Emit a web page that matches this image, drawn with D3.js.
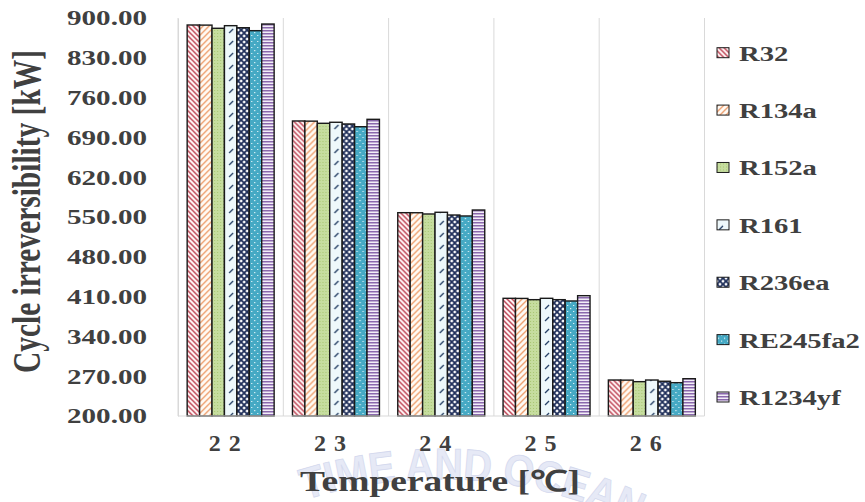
<!DOCTYPE html>
<html><head><meta charset="utf-8">
<script src="https://cdn.jsdelivr.net/npm/d3@7"></script>
<style>
html,body{margin:0;padding:0;background:#fff;}
svg{display:block;}
text{font-family:"Liberation Serif","Times New Roman",serif;font-weight:bold;fill:#404040;}
</style></head>
<body>
<svg id="chart" width="865" height="502"></svg>
<script>
const categories = ["22","23","24","25","26"];
const seriesNames = ["R32","R134a","R152a","R161","R236ea","RE245fa2","R1234yf"];
const valR32      = [887.7, 718.9, 557.6, 407.0, 263.3];
const valR134a    = [887.5, 718.6, 557.5, 406.8, 263.1];
const valR152a    = [881.9, 714.8, 555.3, 404.6, 260.4];
const valR161     = [886.5, 716.6, 558.3, 407.0, 263.3];
const valR236ea   = [882.9, 713.6, 553.5, 404.6, 261.1];
const valRE245fa2 = [877.7, 708.8, 551.8, 402.3, 258.6];
const valR1234yf  = [889.4, 721.8, 562.3, 411.6, 265.6];
const yTicks = [200,270,340,410,480,550,620,690,760,830,900];
const xTitle = "Temperature [\u2103]";
const yTitle = "Cycle irreversibility  [kW]";
const watermark = "TIME AND OCEAN";

const seriesValues = [valR32,valR134a,valR152a,valR161,valR236ea,valRE245fa2,valR1234yf];
const svg = d3.select("#chart");
const defs = svg.append("defs");

// patterns
function pat(id,w,h,bg){
  const p = defs.append("pattern").attr("id",id).attr("patternUnits","userSpaceOnUse")
    .attr("width",w).attr("height",h);
  p.append("rect").attr("width",w).attr("height",h).attr("fill",bg);
  return p;
}
let p;
p = pat("pR32",5,5,"#fff5f5");
p.append("path").attr("d","M-1,-1L6,6M-1,4L1,6M4,-1L6,1").attr("stroke","#c04a5a").attr("stroke-width",1.5);
p = pat("pR134a",6,6,"#fffaf4");
p.append("path").attr("d","M-1,7L7,-1M-1,1L1,-1M5,7L7,5").attr("stroke","#eea070").attr("stroke-width",1.4);
p = pat("pR152a",3,3,"#c6dd9f");
p.append("rect").attr("x",0).attr("y",0).attr("width",1).attr("height",1).attr("fill","#a8c672");
p = pat("pR161",10,12,"#eef8fb");
p.append("path").attr("d","M2,9L6,5").attr("stroke","#1f3a60").attr("stroke-width",1.2);
p = pat("pR236ea",6,6,"#ffffff");
p.append("path").attr("d","M0,0L6,6M6,0L0,6").attr("stroke","#1f2f5a").attr("stroke-width",1.8);
p = pat("pRE245fa2",6,6,"#45a9c4");
p.append("rect").attr("x",1).attr("y",2).attr("width",1.2).attr("height",1.2).attr("fill","#e6f6fa");
p.append("rect").attr("x",4).attr("y",5).attr("width",1.2).attr("height",1.2).attr("fill","#e6f6fa");
p = pat("pR1234yf",4,3,"#f3eef8");
p.append("rect").attr("x",0).attr("y",0).attr("width",4).attr("height",1.5).attr("fill","#8a68ad");
const fills = ["pR32","pR134a","pR152a","pR161","pR236ea","pRE245fa2","pR1234yf"].map(d=>`url(#${d})`);

// scales
const x0 = d3.scaleBand().domain(categories).range([178,704.5]).paddingInner(0.174).paddingOuter(0.087);
const x1 = d3.scaleBand().domain(seriesNames).range([0,x0.bandwidth()]).padding(0);
const y = d3.scaleLinear().domain([200,900]).range([416,18]);

// watermark (faint arc text at the bottom)
defs.append("path").attr("id","wmArc")
  .attr("d","M150,585 A450,450 0 0,1 730,585");
svg.append("text").attr("font-size",44).style("fill","#e6e9f6").style("stroke","#d4d9ee").style("stroke-width",0.8)
  .style("font-family","'Liberation Sans', Arial, sans-serif")
  .append("textPath").attr("href","#wmArc").attr("startOffset",178)
  .attr("textLength",340).attr("lengthAdjust","spacingAndGlyphs").text(watermark);

// vertical gridlines at category boundaries
const bounds = categories.map(c=>x0(c)-x0.step()*x0.paddingOuter());
bounds.push(704.5);
svg.append("g").selectAll("line").data(bounds).join("line")
  .attr("x1",d=>d).attr("x2",d=>d).attr("y1",y(900)).attr("y2",y(200))
  .attr("stroke","#d9d9d9").attr("stroke-width",1);

// bars
const groups = svg.append("g").selectAll("g").data(categories).join("g")
  .attr("transform",c=>`translate(${x0(c)},0)`);
groups.selectAll("rect").data((c,ci)=>seriesNames.map((s,si)=>({s,si,v:seriesValues[si][ci]})))
  .join("rect")
  .attr("x",d=>x1(d.s)).attr("width",x1.bandwidth())
  .attr("y",d=>y(d.v)).attr("height",d=>y(200)-y(d.v))
  .attr("fill",d=>fills[d.si]).attr("stroke","#1a1a1a").attr("stroke-width",1.4);

// y axis
const yAxis = svg.append("g").attr("transform","translate(178,0)")
  .call(d3.axisLeft(y).tickValues(yTicks).tickFormat(d3.format(".2f")).tickSize(0).tickPadding(31));
yAxis.attr("font-family",null);
yAxis.select(".domain").attr("stroke","#d9d9d9");
yAxis.selectAll("text").attr("font-size",20).attr("textLength",80).attr("lengthAdjust","spacingAndGlyphs")
  .attr("dy","0.34em");

// x axis
const xAxis = svg.append("g").attr("transform","translate(0,416)")
  .call(d3.axisBottom(x0).tickSize(0).tickPadding(20));
xAxis.attr("font-family",null);
xAxis.select(".domain").attr("d","M178,0H704.5").attr("stroke","#d9d9d9");
xAxis.selectAll("text").attr("font-size",24).attr("letter-spacing","8px").attr("dx","-2").attr("dy","0.62em");

// axis titles
svg.append("text").attr("x",440).attr("y",491).attr("text-anchor","middle")
  .attr("font-size",29).attr("textLength",280).attr("lengthAdjust","spacingAndGlyphs").text(xTitle);
svg.append("text").attr("transform","translate(40,211.5) scale(1.4,1) rotate(-90)")
  .attr("text-anchor","middle").attr("font-size",29).attr("textLength",323)
  .attr("lengthAdjust","spacingAndGlyphs").text(yTitle);

// legend
const ly = d3.scalePoint().domain(seriesNames).range([60.7,405]);
const leg = svg.append("g").selectAll("g").data(seriesNames).join("g")
  .attr("transform",s=>`translate(717,${ly(s)})`);
leg.append("rect").attr("x",0).attr("y",-13).attr("width",12).attr("height",10)
  .attr("fill",(s,i)=>fills[i]).attr("stroke","#1a1a1a").attr("stroke-width",1);
leg.append("text").attr("x",22).attr("y",0).attr("font-size",22).text(s=>s)
  .each(function(){ const L=this.getComputedTextLength(); d3.select(this).attr("textLength",L*1.3).attr("lengthAdjust","spacingAndGlyphs"); });
</script>
</body></html>
